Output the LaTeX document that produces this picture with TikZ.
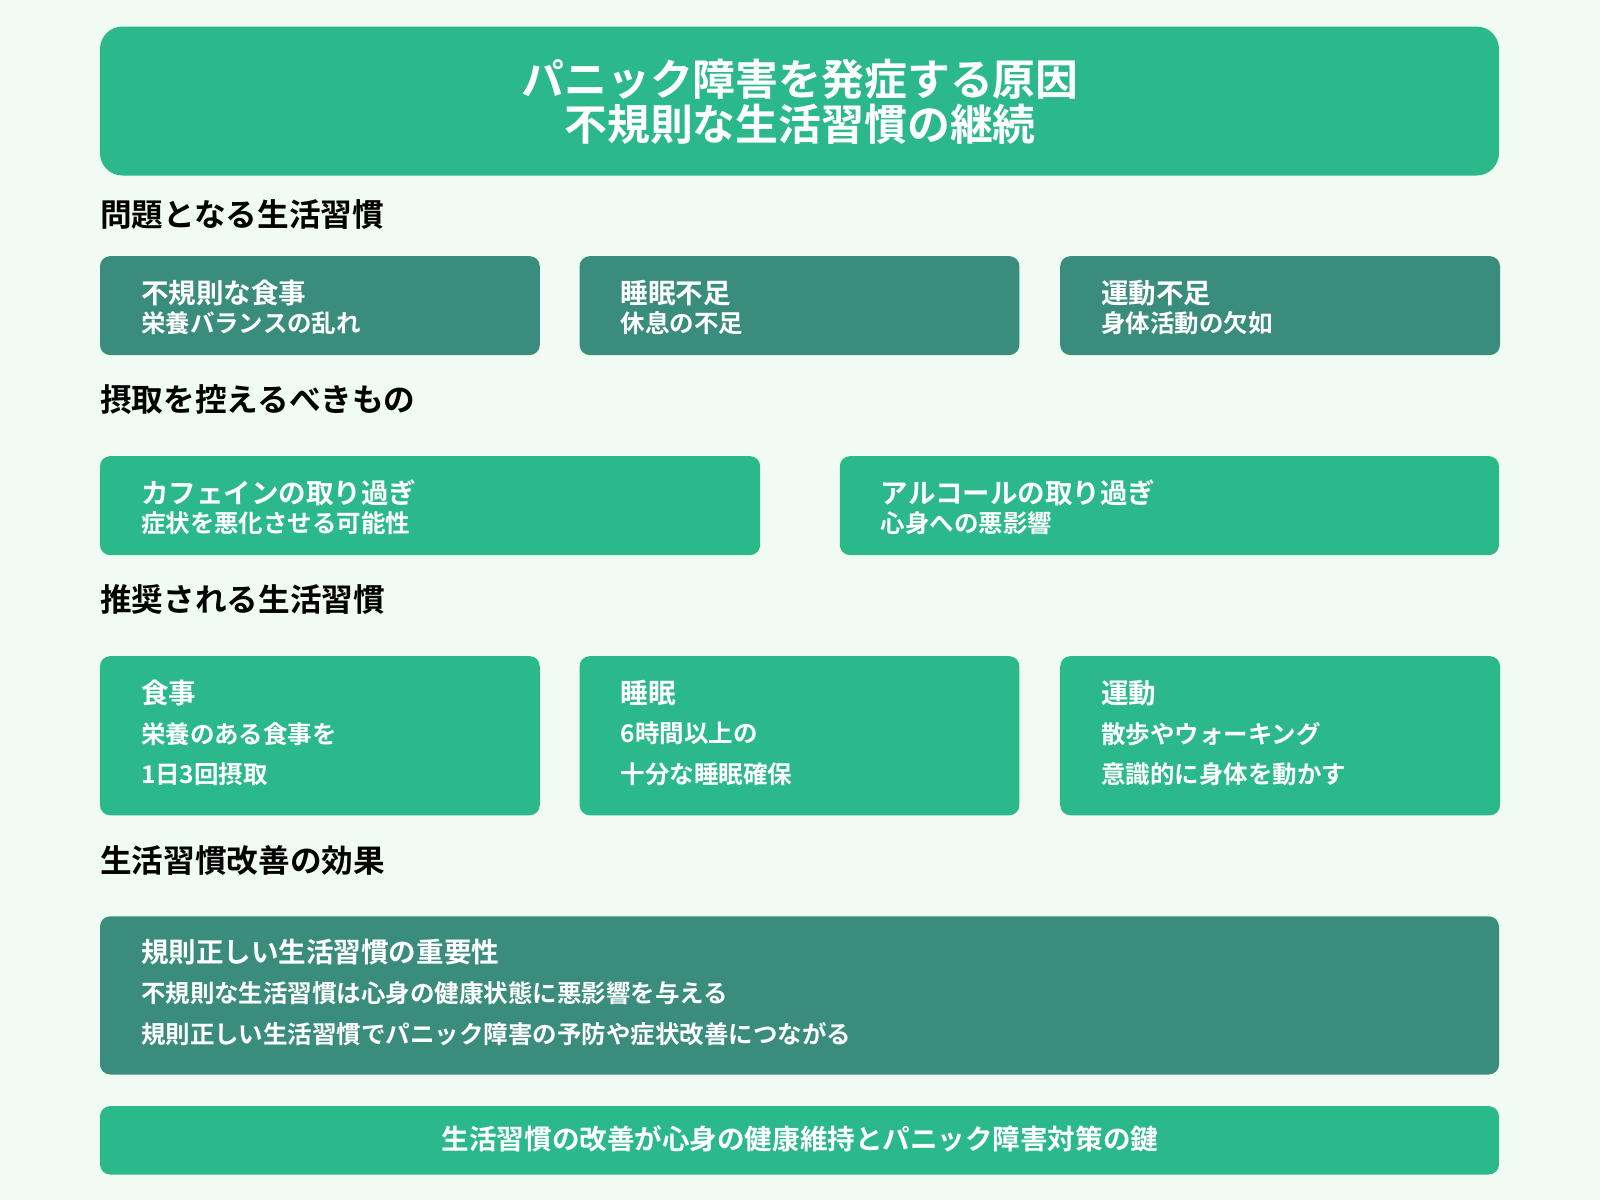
\documentclass[tikz,border=0pt]{standalone}
\usepackage{fontspec}
\setmainfont{Noto Sans CJK JP}[BoldFont={Noto Sans CJK JP Bold}]
\definecolor{bg}{HTML}{F0FCF3}
\definecolor{gr}{HTML}{2BB98B}
\definecolor{dk}{HTML}{3A8C7C}
\begin{document}
\begin{tikzpicture}[x=1pt,y=-1pt,
  box/.style={rounded corners=10pt},
  ttl/.style={text=white,font=\bfseries\fontsize{42}{50}\selectfont,align=center},
  sec/.style={anchor=west,font=\bfseries\fontsize{31}{36}\selectfont,text=black,inner sep=0},
  bt/.style={anchor=west,font=\bfseries\fontsize{27}{32}\selectfont,text=white,inner sep=0},
  bs/.style={anchor=west,font=\bfseries\fontsize{24}{28}\selectfont,text=white,inner sep=0}]
\fill[bg] (0,0) rectangle (1568,1176);
\useasboundingbox (0,0) rectangle (1568,1176);
\fill[gr,rounded corners=22pt] (98,26) rectangle (1469,172);
\node[ttl] (title) at (784,100) {パニック障害を発症する原因\\[-6pt]不規則な生活習慣の継続};
\node[sec] (s1) at (98,210) {問題となる生活習慣};
\foreach \x/\a/\b [count=\i] in {98/不規則な食事/栄養バランスの乱れ,568/睡眠不足/休息の不足,1039/運動不足/身体活動の欠如}{
  \fill[dk,box] (\x,251) rectangle ++(431,97);
  \node[bt] (p\i a) at (\x+40,287) {\a};
  \node[bs] (p\i b) at (\x+40,317) {\b};
}
\node[sec] (s2) at (98,392) {摂取を控えるべきもの};
\fill[gr,box] (98,447) rectangle (745,544);
\node[bt] (c1a) at (138,483) {カフェインの取り過ぎ};
\node[bs] (c1b) at (138,513) {症状を悪化させる可能性};
\fill[gr,box] (823,447) rectangle (1469,544);
\node[bt] (c2a) at (863,483) {アルコールの取り過ぎ};
\node[bs] (c2b) at (863,513) {心身への悪影響};
\node[sec] (s3) at (98,588) {推奨される生活習慣};
\foreach \x/\a/\b/\c [count=\i] in {98/食事/栄養のある食事を/1日3回摂取,568/睡眠/6時間以上の/十分な睡眠確保,1039/運動/散歩やウォーキング/意識的に身体を動かす}{
  \fill[gr,box] (\x,643) rectangle ++(431,156);
  \node[bt] (r\i a) at (\x+40,679) {\a};
  \node[bs] (r\i b) at (\x+40,719) {\b};
  \node[bs] (r\i c) at (\x+40,759) {\c};
}
\node[sec] (s4) at (98,843) {生活習慣改善の効果};
\fill[dk,box] (98,898) rectangle (1469,1053);
\node[bt] (e1) at (138,933) {規則正しい生活習慣の重要性};
\node[bs] (e2) at (138,973) {不規則な生活習慣は心身の健康状態に悪影響を与える};
\node[bs] (e3) at (138,1013) {規則正しい生活習慣でパニック障害の予防や症状改善につながる};
\fill[gr,box] (98,1084) rectangle (1469,1151);
\node[font=\bfseries\fontsize{27}{32}\selectfont,text=white] (f) at (784,1116) {生活習慣の改善が心身の健康維持とパニック障害対策の鍵};
\end{tikzpicture}
\end{document}
